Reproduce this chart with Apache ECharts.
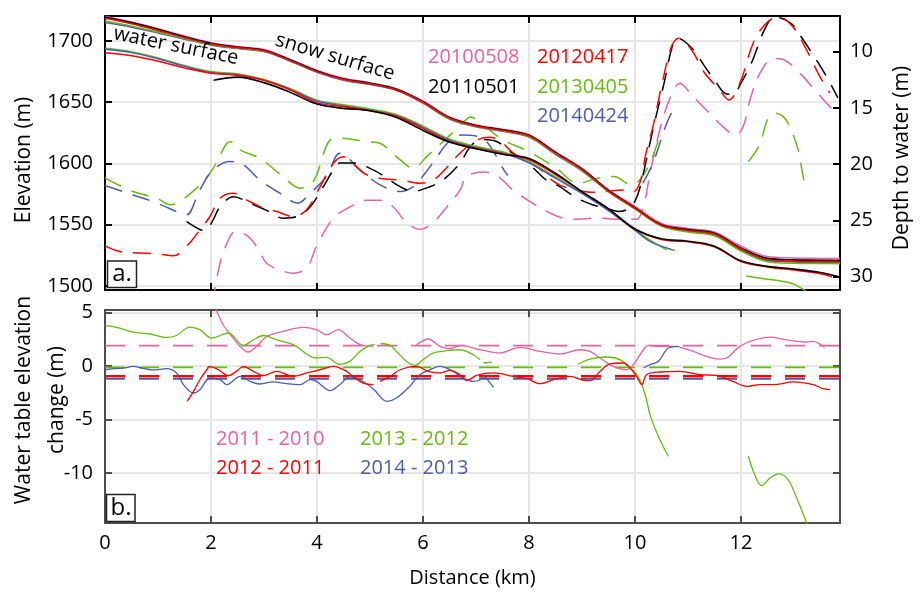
<!DOCTYPE html>
<html><head><meta charset="utf-8">
<script src="https://cdn.jsdelivr.net/npm/echarts@6/dist/echarts.min.js"></script>
<style>html,body{margin:0;padding:0;background:#fff}#c{width:920px;height:592px}</style>
</head><body><div id="c"></div>
<script>
// ---------- DATA ----------
const xTicksKm = [0, 2, 4, 6, 8, 10, 12];
const surfKm = [0,0.5,1,1.5,2,2.5,3,3.5,4,4.5,5,5.5,6,6.5,7,7.5,8,8.5,9,9.5,10,10.5,11,11.5,12,12.5,13,13.5,13.87];
// snow surface elevations (m)
const snow2010 = [1720.3,1715.5,1710,1704,1698.6,1695.5,1693,1685,1676,1669.5,1666,1661,1651,1638,1631.5,1628,1623.5,1609.5,1596,1578.5,1565,1551,1547,1544,1532.5,1524,1522.8,1522.5,1522.4];
const snow2011 = [1719.6,1715,1709.5,1703.5,1698.1,1695,1692.5,1684.5,1675.5,1669,1665.5,1660.5,1650.4,1637.5,1631,1627.5,1623,1609,1595.5,1578,1564,1550,1546,1543,1531,1522.5,1521.3,1521,1520.8];
const snow2012 = [1718.5,1714,1708.6,1702.8,1697.5,1694.6,1692,1684,1675,1668.6,1665,1660,1650,1637,1630.6,1627,1622.5,1608.5,1595,1577.5,1563.5,1549.5,1545.3,1542.3,1530,1521.5,1520.2,1520,1519.8];
const snow2013 = [1716.3,1712.3,1707.3,1702,1697,1694.2,1691.8,1684,1675,1668.5,1665,1660.3,1649.7,1636.7,1630.3,1626.5,1621.8,1607.8,1594.3,1577,1563,1549,1544,1541,1528.5,1519.8,1518.5,1518.3,1518.2];
const snow2014 = [1715,1711.3,1706.6,1701.5,1696.6,1693.8,1691.4,1683.5,1674.5,1668,1664.5,1659.8,1649.2,1636.3,1630,1626.2,1621.5,1607.5,1594,1577,1563,1549.5,1544.6,1541.6,1529.3,1520.7,1519.6,1519.4,1519.3];
// water surface elevations (m)
const water2011Km = [2.05,2.5,3,3.5,4,4.5,5,5.5,6,6.5,7,7.5,8,8.5,9,9.5,10,10.5,11,11.5,12,12.5,13,13.5,13.87];
const water2011 = [1668,1670.5,1666,1658,1648.5,1645,1643,1637.5,1627,1617.5,1612,1607.5,1604,1592,1577,1563,1546.5,1538.5,1536.5,1532.5,1520.5,1516,1513.8,1511,1507.3];
const water2012Km = [0,0.5,1,1.5,2,2.5,3,3.5,4,4.5,5,5.5,6,6.5,7,7.5,8,8.5,9,9.5,10,10.5,11,11.5,12,12.5,13,13.5,13.72];
const water2012 = [1690.4,1688,1683.5,1678,1673.6,1672,1668,1660,1649.5,1646.5,1643,1638.5,1628.5,1618,1612.5,1608,1603,1591,1577,1563,1546.5,1538,1536,1532,1520,1515.5,1513,1510,1507.5];
const water2013Km = [0,0.5,1,1.5,2,2.5,3,3.5,4,4.5,5,5.5,6,6.5,7,7.5,8,8.5,9,9.5,10,10.3,10.6];
const water2013 = [1694,1691.3,1686.2,1680,1675,1673.2,1668.5,1661,1651.7,1648,1644.5,1640,1630.5,1620,1614,1609.5,1601.5,1589,1576,1562,1546,1537,1529.5];
const water2013bKm = [12.1,12.4,12.75,13.0,13.25];
const water2013b = [1508.1,1506,1504,1501.5,1495];
const water2014Km = [0,0.5,1,1.5,2,2.5,3,3.5,4,4.5,5,5.5,6,6.5,7,7.5,8,8.5,9,9.5,10,10.3,10.75];
const water2014 = [1693.2,1690.5,1685.5,1679.3,1674.2,1672.5,1668,1660.5,1651,1647,1643.5,1639,1629.5,1619,1613,1608.5,1600.5,1588,1575.5,1561.5,1545.5,1536,1529];
// depth to water (m) [km, depth]
const dtw20100508 = [[2.03,32.5],[2.17,28.8],[2.36,26.4],[2.45,26.0],[2.67,26.3],[2.86,27.3],[3.05,28.8],[3.36,29.5],[3.55,29.7],[3.81,29.2],[3.99,27.3],[4.31,24.8],[4.62,23.8],[4.94,23.2],[5.19,23.2],[5.44,23.8],[5.69,25.2],[5.94,25.8],[6.19,25.2],[6.45,23.8],[6.7,22.3],[6.82,21.1],[7.14,20.7],[7.39,21.0],[7.7,22.3],[8.08,23.5],[8.52,24.6],[8.84,24.9],[9.28,24.8],[9.72,24.9],[10.03,24.9],[10.16,23.8],[10.25,21.7],[10.41,18.1],[10.6,14.9],[10.85,12.8],[11.1,14.0],[11.35,15.2],[11.67,16.7],[11.89,17.4],[12.04,16.7],[12.17,14.3],[12.36,11.9],[12.61,10.6],[12.8,10.7],[13.11,11.9],[13.43,13.6],[13.68,14.9],[13.8,15.5]];
const dtw20110501 = [[1.54,25.1],[1.79,25.8],[1.89,25.9],[2.04,24.95],[2.17,23.8],[2.42,22.9],[2.8,23.6],[3.05,24.1],[3.36,24.8],[3.62,24.65],[3.87,23.8],[4.12,22.0],[4.31,20.5],[4.43,19.9],[4.69,19.9],[5.06,20.5],[5.31,21.2],[5.57,22.0],[5.82,22.4],[6.13,22.0],[6.38,21.4],[6.7,19.9],[6.9,18.4],[7.1,17.8],[7.4,18.0],[7.65,18.9],[8.0,20.0],[8.35,21.5],[8.55,21.9],[8.9,23.0],[9.2,23.6],[9.45,23.9],[9.7,24.2],[9.9,23.9],[10.0,23.3],[10.1,22.0],[10.35,16.7],[10.55,12.8],[10.7,9.6],[10.8,8.8],[11.1,9.8],[11.3,11.2],[11.5,12.5],[11.7,13.7],[11.85,13.8],[12.0,12.8],[12.2,11.0],[12.45,8.0],[12.64,6.9],[12.95,7.5],[13.14,8.7],[13.46,11.0],[13.65,12.5],[13.83,14.1]];
const dtw20120417 = [[0,27.26],[0.28,27.76],[0.66,27.9],[0.98,27.96],[1.29,28.14],[1.54,27.3],[1.79,25.84],[1.98,24.65],[2.17,23.02],[2.42,22.58],[2.67,23.17],[2.99,23.91],[3.24,24.21],[3.55,24.65],[3.8,24.06],[4.06,21.99],[4.31,19.91],[4.5,19.33],[4.7,20.06],[4.94,20.95],[5.25,21.3],[5.57,21.4],[5.94,21.69],[6.2,21.4],[6.45,20.3],[6.7,19.0],[7.0,17.9],[7.25,17.6],[7.45,17.9],[7.7,19.0],[8.0,19.8],[8.2,20.4],[8.4,21.3],[8.6,21.9],[8.9,22.3],[9.2,22.5],[9.5,22.4],[9.75,22.3],[9.95,22.5],[10.09,21.7],[10.2,19.2],[10.34,16.66],[10.5,13.1],[10.69,9.55],[10.82,8.81],[11.07,9.85],[11.32,11.92],[11.6,13.4],[11.77,14.29],[11.98,12.81],[12.23,9.25],[12.45,7.6],[12.7,6.89],[12.98,7.78],[13.24,9.85],[13.49,12.22],[13.68,13.69]];
const dtw20130405 = [[0,21.24],[0.53,22.43],[0.98,23.02],[1.23,23.61],[1.54,22.88],[1.98,20.8],[2.3,18.14],[2.4,18.0],[2.55,18.73],[2.92,19.47],[3.36,21.1],[3.68,22.13],[3.93,21.55],[4.25,17.84],[4.43,17.69],[4.94,17.99],[5.19,18.14],[5.57,19.62],[5.82,20.36],[6.07,19.33],[6.7,16.6],[6.9,15.8],[7.1,16.4],[7.5,17.8],[8.0,18.9],[8.5,20.3],[8.93,21.69],[9.3,21.24],[9.6,21.1],[9.94,21.84],[10.09,21.4],[10.25,20.2],[10.38,18.73],[10.5,16.95]];
const dtw20130405b = [[12.14,19.77],[12.35,18.29],[12.5,16.07],[12.63,15.47],[12.8,15.77],[12.95,16.95],[13.08,18.73],[13.14,20.21],[13.2,21.69],[13.23,22.28]];
const dtw20140424 = [[0,21.9],[0.53,22.73],[0.98,23.46],[1.42,24.35],[1.54,24.5],[1.79,22.28],[2.04,20.5],[2.36,19.77],[2.61,20.06],[2.92,21.4],[3.3,22.58],[3.64,23.46],[3.87,22.58],[4.18,21.1],[4.43,19.02],[4.56,19.33],[4.81,20.5],[5.19,21.84],[5.57,22.43],[5.82,21.99],[6.04,20.8],[6.23,19.6],[6.47,18.1],[6.73,17.4],[7.0,17.5],[7.2,18.0],[7.36,19.1],[7.5,20.3],[7.6,21.0]];
const dtw20140424b = [[10.15,21.69],[10.34,19.91],[10.6,16.36],[10.75,14.91]];
// water table elevation change (m) [km, change]
const chg2011_2010a = [[2.05,5.8],[2.23,3.85],[2.42,2.61],[2.55,1.83],[2.7,1.31],[2.86,1.83],[3.05,2.76],[3.36,3.23],[3.74,3.6],[3.99,3.39],[4.18,2.92],[4.4,3.39],[4.62,2.61],[4.81,1.99],[5.06,1.83]];
const chg2011_2010b = [[5.88,1.99],[6.1,2.52],[6.32,1.83],[6.51,1.61],[6.7,1.92],[7.08,1.52],[7.45,1.21],[7.83,1.74],[8.21,1.36],[8.58,1.12],[8.96,1.52],[9.15,1.36],[9.34,0.75],[9.59,-0.04],[9.84,-0.35],[9.97,0.12],[10.16,1.52],[10.25,1.92],[10.47,1.83],[10.79,1.83],[10.85,1.74],[11.1,1.36],[11.35,0.9],[11.6,0.65],[11.73,0.75],[11.98,1.83],[12.23,2.39],[12.55,2.7],[12.86,2.45],[13.24,2.24],[13.36,2.3],[13.58,1.74]];
const chg2012_2011a = [[1.55,-3.3],[1.67,-2.37],[1.79,-1.28],[1.92,-0.35],[1.98,-0.04],[2.14,-0.35],[2.33,-0.9],[2.48,-0.5],[2.61,-0.04],[2.8,-0.5],[2.99,-0.9],[3.24,-0.5],[3.55,-0.97],[3.81,-0.65],[4.06,-0.35],[4.31,-0.04],[4.43,-0.19],[4.56,-0.5],[4.68,-0.97],[4.87,-1.59],[5.06,-1.74]];
const chg2012_2011b = [[5.19,-1.44],[5.38,-0.97],[5.57,-0.35],[5.88,-0.04],[6.1,-0.5],[6.32,-0.65],[6.51,-0.41],[6.7,-0.81],[6.82,-1.37],[7.01,-0.88],[7.33,-0.65],[7.7,-0.97],[7.96,-1.18],[8.21,-1.65],[8.46,-1.28],[8.77,-0.97],[9.09,-1.37],[9.2,-1.28],[9.34,-0.5],[9.53,0.19],[9.78,0.28],[9.91,-0.19],[10.03,-0.97],[10.13,-1.74],[10.22,-0.81],[10.47,-0.56],[10.85,-0.5],[11.23,-0.81],[11.54,-0.88],[11.85,-1.44],[12.11,-1.9],[12.36,-1.74],[12.61,-1.74],[12.99,-1.49],[13.36,-1.74],[13.55,-2.12],[13.68,-2.21]];
const chg2013_2012a = [[0,3.79],[0.22,3.6],[0.53,3.17],[0.85,2.99],[1.16,2.67],[1.35,2.85],[1.6,3.64],[1.79,3.39],[2.01,2.61],[2.33,3.08],[2.61,1.92],[2.8,2.45],[2.99,2.85],[3.24,2.45],[3.55,1.99],[3.99,0.75],[4.18,0.8],[4.43,0.15],[4.62,0.43],[4.81,1.36],[5.0,1.92],[5.09,1.99]];
const chg2013_2012b = [[5.2,2.1],[5.38,1.92],[5.5,1.36],[5.69,0.43],[5.85,0.06],[6.0,0.59],[6.19,1.21],[6.45,1.43],[6.7,1.52],[6.95,1.05],[7.08,0.59]];
const chg2013_2012c = [[7.14,0.28],[7.3,0.37]];
const chg2013_2012d = [[8.93,0.16],[9.15,0.65],[9.47,0.84],[9.72,0.59],[9.91,-0.2],[10.03,-0.75],[10.12,-1.6],[10.2,-2.8],[10.3,-4.8],[10.47,-6.87],[10.63,-8.43]];
const chg2013_2012e = [[12.14,-8.43],[12.26,-10.14],[12.39,-11.17],[12.55,-10.45],[12.71,-10.07],[12.89,-10.6],[13.05,-12.31],[13.24,-14.65],[13.27,-15.2]];
const chg2014_2013a = [[0,-0.35],[0.16,-0.25],[0.35,-0.19],[0.53,-0.04],[0.72,-0.22],[0.91,-0.37],[1.16,-0.25],[1.35,-0.65],[1.48,-1.74],[1.67,-2.52],[1.79,-2.21],[1.98,-1.12],[2.17,-1.28],[2.3,-1.74],[2.55,-0.97],[2.74,-1.44],[2.92,-1.68],[3.18,-1.49],[3.43,-1.65],[3.68,-1.74],[3.87,-1.28],[3.99,-1.44],[4.25,-2.3],[4.43,-1.75],[4.62,-1.0],[4.81,-1.28],[5.06,-2.12],[5.32,-3.3],[5.5,-2.99],[5.75,-1.9],[5.94,-0.81],[6.13,-0.35],[6.32,-0.04],[6.57,-0.5],[6.76,-1.12],[6.95,-1.44],[7.08,-1.28],[7.14,-0.97],[7.22,-1.3],[7.33,-2.0]];
const chg2014_2013b = [[10.16,-0.19],[10.28,0.12],[10.44,0.43],[10.57,1.36],[10.63,1.68],[10.82,1.83]];
// mean changes (m)
const meanKm = [0, 13.87];
const mean2011_2010 = 1.9, mean2012_2011 = -0.95, mean2013_2012 = -0.13, mean2014_2013 = -1.2;

// ---------- STYLE ----------
const FONT = "'Open Sans','Noto Sans',sans-serif";
const COL = {pink:'#e8629f', black:'#000000', red:'#ff0000', green:'#66bb11', blue:'#4a5cb0'};
const DASH = [18, 11];
const GRID_LINE = '#e6e6e6';
const X_MAX = 13.87;
const plain = v => String(v);

const pair = (xs, ys) => xs.map((x, i) => [x, ys[i]]);

function xAx(gi, pos, showLab, name) {
  const c = gi === 0 ? '#000' : '#4d4d4d';
  return {type:'value', gridIndex:gi, position:pos, min:0, max:X_MAX, interval:2,
    axisLine:{onZero:false, lineStyle:{color:c, width:2}},
    axisTick:{show:true, inside:true, length:7, lineStyle:{color:c, width:2}},
    axisLabel:{show:showLab, showMaxLabel:false, color:'#000', fontSize:20, fontFamily:FONT, margin:10, formatter:plain},
    splitLine:{show: pos === 'bottom', lineStyle:{color:GRID_LINE, width:2}},
    name: name || '', nameLocation:'middle', nameGap:45,
    nameTextStyle:{color:'#000', fontSize:20, fontFamily:FONT}};
}
function yAx(gi, pos, min, max, opts) {
  const c = gi === 0 ? '#000' : '#4d4d4d';
  return Object.assign({type:'value', gridIndex:gi, position:pos, min:min, max:max,
    axisLine:{onZero:false, lineStyle:{color:c, width:2}},
    axisTick:{show:true, inside:true, length:7, lineStyle:{color:c, width:2}},
    axisLabel:{show:true, showMinLabel:false, showMaxLabel:false, color:'#000', fontSize:20, fontFamily:FONT, margin:12, formatter:plain},
    splitLine:{show:false}}, opts || {});
}

function line(data, color, width, dashed, xi, yi, z) {
  return {type:'line', data:data, xAxisIndex:xi, yAxisIndex:yi, showSymbol:false, symbol:'none',
    smooth:0.35, clip:true, z:z || 2, silent:true,
    lineStyle:{color:color, width:width, type: dashed ? DASH : 'solid'}};
}

const series = [];
// top: depth to water (dashed, right axis)
series.push(line(dtw20100508, COL.pink, 1.5, true, 0, 1));
series.push(line(dtw20130405, COL.green, 1.5, true, 0, 1));
series.push(line(dtw20130405b, COL.green, 1.5, true, 0, 1));
series.push(line(dtw20140424, COL.blue, 1.5, true, 0, 1));
series.push(line(dtw20140424b, COL.blue, 1.5, true, 0, 1));
series.push(line(dtw20110501, COL.black, 1.5, true, 0, 1));
series.push(line(dtw20120417, COL.red, 1.5, true, 0, 1));
// top: water surfaces
series.push(line(pair(water2013Km, water2013), COL.green, 1.5, false, 0, 0, 3));
series.push(line(pair(water2013bKm, water2013b), COL.green, 1.5, false, 0, 0, 3));
series.push(line(pair(water2014Km, water2014), COL.blue, 1.5, false, 0, 0, 3));
series.push(line(pair(water2012Km, water2012), COL.red, 1.5, false, 0, 0, 3));
series.push(line(pair(water2011Km, water2011), COL.black, 1.6, false, 0, 0, 3));
// top: snow surfaces
series.push(line(pair(surfKm, snow2010), COL.pink, 1.5, false, 0, 0, 3));
series.push(line(pair(surfKm, snow2014), COL.blue, 1.5, false, 0, 0, 3));
series.push(line(pair(surfKm, snow2013), COL.green, 1.5, false, 0, 0, 3));
series.push(line(pair(surfKm, snow2011), COL.black, 1.6, false, 0, 0, 3));
series.push(line(pair(surfKm, snow2012), COL.red, 1.5, false, 0, 0, 3));
// bottom: mean lines
const meanLine = (v, color, w) => { const s = line(meanKm.map(k => [k, v]), color, w, false, 2, 2); s.smooth = false; s.lineStyle.type = [20, 14]; return s; };
series.push(meanLine(mean2011_2010, COL.pink, 1.6));
series.push(meanLine(mean2013_2012, COL.green, 1.6));
series.push(meanLine(mean2014_2013, COL.blue, 1.8));
series.push(meanLine(mean2012_2011, COL.red, 2.6));
// bottom: changes
[chg2011_2010a, chg2011_2010b].forEach(d => series.push(line(d, COL.pink, 1.3, false, 2, 2, 3)));
[chg2013_2012a, chg2013_2012b, chg2013_2012c, chg2013_2012d, chg2013_2012e].forEach(d => series.push(line(d, COL.green, 1.3, false, 2, 2, 3)));
[chg2014_2013a, chg2014_2013b].forEach(d => series.push(line(d, COL.blue, 1.3, false, 2, 2, 3)));
[chg2012_2011a, chg2012_2011b].forEach(d => series.push(line(d, COL.red, 1.3, false, 2, 2, 3)));

const txt = (x, y, s, color, extra) => Object.assign({type:'text', x:x, y:y, z:50,
  style:{text:s, fill:color, font:'20px ' + FONT, textVerticalAlign:'middle'}}, extra || {});
const vtxt = (x, y, s) => ({type:'text', x:x, y:y, rotation:Math.PI/2, z:50,
  style:{text:s, fill:'#000', font:'21px ' + FONT, textAlign:'center', textVerticalAlign:'middle'}});

const graphic = [
  txt(428, 57, '20100508', COL.pink), txt(537, 57, '20120417', COL.red),
  txt(428, 87, '20110501', COL.black), txt(537, 87, '20130405', COL.green),
  txt(537, 116, '20140424', COL.blue),
  txt(216, 439, '2011 - 2010', COL.pink), txt(360, 439, '2013 - 2012', COL.green),
  txt(216, 468, '2012 - 2011', COL.red), txt(360, 468, '2014 - 2013', COL.blue),
  {type:'text', x:176, y:46, rotation:-11.5*Math.PI/180, z:50,
    style:{text:'water surface', fill:'#000', font:'20px ' + FONT, textAlign:'center', textVerticalAlign:'middle'}},
  {type:'text', x:335, y:57, rotation:-16.5*Math.PI/180, z:50,
    style:{text:'snow surface', fill:'#000', font:'20px ' + FONT, textAlign:'center', textVerticalAlign:'middle'}},
  vtxt(24, 160, 'Elevation (m)'),
  vtxt(902, 158, 'Depth to water (m)'),
  vtxt(24, 400, 'Water table elevation'),
  vtxt(57, 400, 'change (m)'),
  {type:'rect', shape:{x:107.5, y:261, width:29, height:26.5}, z:50, style:{fill:'#fff', stroke:'#222', lineWidth:1.5}},
  {type:'text', x:122, y:274.5, z:51, style:{text:'a.', fill:'#000', font:'24px ' + FONT, textAlign:'center', textVerticalAlign:'middle'}},
  {type:'rect', shape:{x:106.5, y:494.5, width:28.5, height:27}, z:50, style:{fill:'#fff', stroke:'#222', lineWidth:1.5}},
  {type:'text', x:121, y:508, z:51, style:{text:'b.', fill:'#000', font:'24px ' + FONT, textAlign:'center', textVerticalAlign:'middle'}}
];

const option = {
  animation:false,
  backgroundColor:'#fff',
  grid:[{left:105, top:16, width:735, height:274, containLabel:false, outerBoundsMode:'none'},
        {left:105, top:310, width:735, height:213, containLabel:false, outerBoundsMode:'none'}],
  xAxis:[xAx(0,'bottom',false), xAx(0,'top',false), xAx(1,'bottom',true,'Distance (km)'), xAx(1,'top',false)],
  yAxis:[
    yAx(0,'left',1496.7,1720.4,{splitLine:{show:true, lineStyle:{color:GRID_LINE, width:2}}}),
    yAx(0,'right',6.83,31.18,{inverse:true,
      axisLabel:{show:true, showMinLabel:false, showMaxLabel:false, color:'#000', fontSize:20, fontFamily:FONT, margin:10, formatter:plain}}),
    yAx(1,'left',-14.66,5.23,{splitNumber:4, splitLine:{show:true, lineStyle:{color:GRID_LINE, width:2}}}),
    yAx(1,'right',-14.66,5.23,{splitNumber:4, axisLabel:{show:false}})
  ],
  series:series,
  graphic:graphic
};
const chart = echarts.init(document.getElementById('c'), null, {renderer:'canvas'});
chart.setOption(option);
</script></body></html>
